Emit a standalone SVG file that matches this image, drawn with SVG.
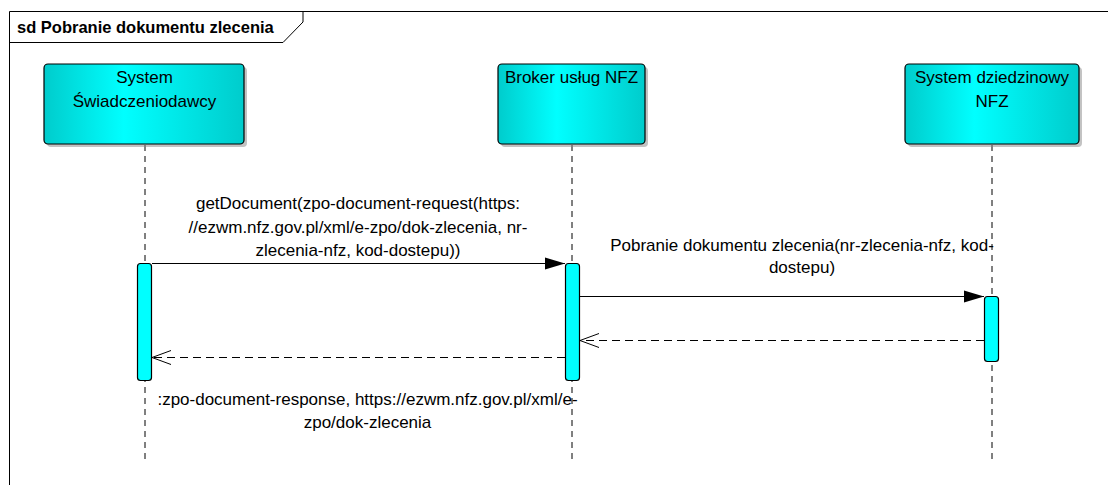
<svg xmlns="http://www.w3.org/2000/svg" width="1108" height="485" viewBox="0 0 1108 485">
<defs>
<linearGradient id="g" x1="0" y1="0" x2="1" y2="0">
<stop offset="0" stop-color="#00cccc"/>
<stop offset="0.4" stop-color="#00ffff"/>
<stop offset="1" stop-color="#00cccc"/>
</linearGradient>
<marker id="fill" markerWidth="20" markerHeight="14" refX="20" refY="7" orient="auto" markerUnits="userSpaceOnUse">
<path d="M0,1 L20,7 L0,13 Z" fill="#000"/>
</marker>
<marker id="open" markerWidth="22" markerHeight="16" refX="20" refY="8" orient="auto" markerUnits="userSpaceOnUse">
<path d="M1,1 L20,8 L1,15" fill="none" stroke="#000" stroke-width="1"/>
</marker>
</defs>
<style>
text{font-family:"Liberation Sans",Arial,sans-serif;font-size:17px;fill:#000}
.title{font-weight:bold;font-size:16.5px}
.box{fill:url(#g);stroke:#000;stroke-width:1.2}
.shadow{fill:#888;opacity:0.5}
.life{stroke:#000;stroke-width:1;stroke-dasharray:6,5;fill:none}
.act{fill:#00ffff;stroke:#000;stroke-width:1.2}
.msg{stroke:#000;stroke-width:1.2;fill:none}
.ret{stroke:#000;stroke-width:1.2;fill:none;stroke-dasharray:8,5}
</style>
<rect x="0" y="0" width="1108" height="485" fill="#fff"/>
<g id="frame">
<path d="M9.5,485 L9.5,11.5 L1108,11.5" fill="none" stroke="#000" stroke-width="1"/>
<path d="M9.5,42.5 L283,42.5 L303,22 L303,11.5" fill="none" stroke="#000" stroke-width="1"/>
<text class="title" x="17" y="33">sd Pobranie dokumentu zlecenia</text>
</g>
<g id="lifelines">
<line class="life" x1="145" y1="145" x2="145" y2="460"/>
<line class="life" x1="572" y1="145" x2="572" y2="460"/>
<line class="life" x1="992" y1="145" x2="992" y2="460"/>
</g>
<g id="node-swiadczeniodawca">
<rect class="shadow" x="47" y="67" width="200" height="80" rx="4"/>
<rect class="box" x="44" y="64" width="200" height="80" rx="4"/>
<text x="144.5" y="83" text-anchor="middle">System</text>
<text x="144.5" y="107" text-anchor="middle">Świadczeniodawcy</text>
</g>
<g id="node-broker">
<rect class="shadow" x="501" y="67" width="147" height="80" rx="4"/>
<rect class="box" x="498" y="64" width="147" height="80" rx="4"/>
<text x="571.5" y="83" text-anchor="middle">Broker usług NFZ</text>
</g>
<g id="node-dziedzinowy">
<rect class="shadow" x="908" y="67" width="174" height="80" rx="4"/>
<rect class="box" x="905" y="64" width="174" height="80" rx="4"/>
<text x="992" y="83" text-anchor="middle">System dziedzinowy</text>
<text x="992" y="107" text-anchor="middle">NFZ</text>
</g>
<g id="activations">
<rect class="act" x="137.5" y="263.5" width="14" height="117" rx="3"/>
<rect class="act" x="565.5" y="263.5" width="14" height="117" rx="3"/>
<rect class="act" x="984.5" y="296.5" width="14" height="65" rx="3"/>
</g>
<g id="connectors">
<line class="msg" x1="152" y1="263.5" x2="565" y2="263.5" marker-end="url(#fill)"/>
<line class="msg" x1="580" y1="296.5" x2="984" y2="296.5" marker-end="url(#fill)"/>
<line class="ret" x1="984" y1="340.5" x2="580" y2="340.5" marker-end="url(#open)"/>
<line class="ret" x1="565" y1="357.5" x2="152" y2="357.5" marker-end="url(#open)"/>
<text x="358" y="209" text-anchor="middle">getDocument(zpo-document-request(https:</text>
<text x="358" y="233" text-anchor="middle">//ezwm.nfz.gov.pl/xml/e-zpo/dok-zlecenia, nr-</text>
<text x="358" y="256" text-anchor="middle">zlecenia-nfz, kod-dostepu))</text>
<text x="802" y="251" text-anchor="middle">Pobranie dokumentu zlecenia(nr-zlecenia-nfz, kod-</text>
<text x="802" y="273" text-anchor="middle">dostepu)</text>
<text x="367.5" y="405" text-anchor="middle">:zpo-document-response, https://ezwm.nfz.gov.pl/xml/e-</text>
<text x="367.5" y="428" text-anchor="middle">zpo/dok-zlecenia</text>
</g>
</svg>
